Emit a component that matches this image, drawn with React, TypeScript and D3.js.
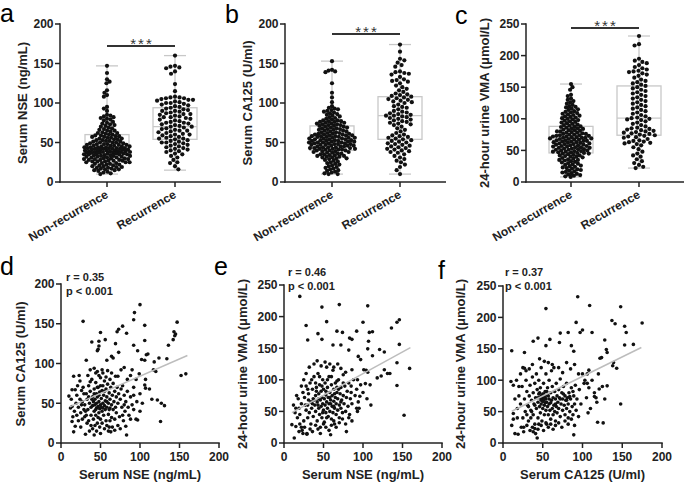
import React from 'react';
import * as d3 from 'd3';

const categories = ['Non-recurrence', 'Recurrence'];
const yTicks200 = [0, 50, 100, 150, 200];
const yTicks250 = [0, 50, 100, 150, 200, 250];
const xTicks200 = [0, 50, 100, 150, 200];

// beeswarm values
const nseNonRec = [147,138,130,127,125,116,113,110,108,95,93,90,85,84,83,82,81,80,79,78,76,75,74,73,72,71,70,69,68,67,66,65,65,64,63,62,62,61,60,60,59,59,58,58,57,57,56,56,55,55,54,54,53,53,52,52,51,51,50,50,50,49,49,48,48,48,47,47,47,46,46,46,45,45,45,44,44,44,44,43,43,43,43,42,42,42,42,41,41,41,41,40,40,40,40,39,39,39,39,38,38,38,38,37,37,37,37,36,36,36,36,35,35,35,35,34,34,34,33,33,33,32,32,32,31,31,31,30,30,30,29,29,29,28,28,28,27,27,27,26,26,26,25,25,25,24,24,23,23,22,22,21,21,20,20,19,19,18,18,17,17,16,16,15,15,14,13,12,11,10];
const nseRec = [160,147,146,145,144,140,137,124,115,108,107,107,106,106,105,104,104,103,102,101,100,100,99,98,97,96,95,94,93,92,91,90,90,89,88,87,86,86,85,84,83,82,82,81,80,79,78,77,76,75,75,74,73,72,71,70,70,69,68,67,66,65,65,64,63,62,61,60,60,59,58,57,56,55,55,54,53,52,51,50,50,49,48,47,46,45,44,43,42,41,40,39,38,36,35,33,31,28,25,24,20,16];
const caNonRec = [153,142,141,140,139,125,113,107,101,96,94,93,92,91,90,89,88,87,86,85,84,83,82,81,80,79,78,78,77,77,76,76,75,75,74,74,73,73,72,72,71,71,70,70,69,69,68,68,67,67,66,66,65,65,64,64,63,63,62,62,61,61,61,60,60,60,59,59,59,58,58,58,57,57,57,56,56,56,55,55,55,54,54,54,53,53,53,52,52,52,51,51,51,50,50,50,50,49,49,49,48,48,48,47,47,47,46,46,46,45,45,45,44,44,44,43,43,43,42,42,42,41,41,41,40,40,40,39,39,38,38,37,37,36,36,35,35,34,34,33,33,32,32,31,31,30,30,29,28,27,26,25,24,23,22,21,20,19,18,17,16,15,14,13,12,11,10,10];
const caRec = [174,165,156,154,151,148,146,140,139,138,137,136,133,130,129,128,127,125,122,120,118,116,114,112,111,110,109,108,107,106,105,104,103,102,101,100,98,96,95,94,92,90,89,88,87,86,85,84,84,83,82,81,80,79,78,77,76,75,74,73,72,70,68,66,64,62,60,59,58,57,56,55,54,53,52,51,50,49,48,47,46,45,44,43,42,41,40,39,38,37,35,33,31,29,27,25,22,19,15,10];
const vmaNonRec = [155,150,146,138,136,132,130,128,126,124,122,120,119,118,116,115,114,112,111,110,109,108,107,106,105,104,103,102,101,100,99,98,97,96,95,94,93,92,91,90,89,88,88,87,86,85,85,84,83,82,82,81,80,80,79,78,78,77,76,76,75,75,74,74,73,73,72,72,71,71,70,70,70,69,69,68,68,67,67,66,66,65,65,64,64,63,63,62,62,61,61,60,60,59,59,58,58,57,57,56,56,55,55,54,54,53,53,52,52,51,51,50,50,49,49,48,48,47,47,46,46,45,45,44,43,42,42,41,40,40,39,38,37,36,35,35,34,33,32,31,30,29,28,27,26,25,24,23,22,21,20,19,18,17,16,15,14,13,12,11,10,9,8];
const vmaRec = [231,218,216,195,192,190,188,185,182,180,178,176,175,174,172,170,168,165,162,160,158,156,154,152,150,148,146,144,142,140,138,136,134,132,130,128,126,124,122,120,118,116,114,112,110,108,106,104,102,101,100,99,98,96,94,92,90,88,86,85,84,83,82,81,80,79,78,77,76,75,74,73,72,71,70,68,66,65,64,63,62,61,60,58,55,52,48,45,42,40,36,33,30,27,24,22];

// box stats: [min, q1, median, q3, max]
const boxNSE = [[10, 35, 43, 60, 147], [15, 54, 70, 94, 160]];
const boxCA = [[10, 40, 50, 71, 153], [10, 54, 84, 108, 174]];
const boxVMA = [[8, 46, 68, 88, 155], [22, 74, 101, 152, 231]];

// scatter d: [NSE, CA125]
const nseVsCa = [[100,174],[93,164],[92,155],[28,153],[147,152],[78,147],[73,143],[71,140],[106,148],[83,138],[143,140],[145,137],[144,135],[50,139],[56,130],[39,127],[48,128],[106,129],[142,130],[92,123],[69,125],[48,122],[47,118],[46,116],[136,123],[73,114],[97,116],[110,112],[108,111],[64,109],[66,107],[58,104],[32,104],[102,105],[106,104],[124,107],[134,106],[118,102],[158,87],[152,85],[90,92],[99,87],[117,92],[120,90],[107,80],[106,73],[107,69],[122,54],[127,50],[131,47],[126,27],[97,29],[100,40],[92,42],[82,21],[83,10],[63,14],[50,12],[42,10],[31,11],[18,21],[16,14],[14,27],[12,44],[14,46],[10,59],[14,67],[18,67],[16,84],[24,78],[37,92],[42,94],[46,90],[52,92],[59,91],[69,84],[84,80],
[20,60],[22,45],[25,38],[27,52],[28,70],[30,48],[30,33],[32,62],[33,55],[34,42],[35,72],[35,28],[36,50],[37,65],[38,45],[38,35],[39,80],[40,58],[40,47],[41,30],[41,52],[42,68],[42,40],[43,55],[43,48],[44,76],[44,35],[45,62],[45,44],[45,50],[46,25],[46,58],[47,46],[47,70],[48,52],[48,38],[49,43],[49,64],[50,48],[50,82],[50,30],[51,56],[51,45],[52,66],[52,40],[53,50],[53,72],[54,35],[54,60],[55,47],[55,78],[56,53],[56,42],[57,68],[57,28],[58,58],[58,45],[59,74],[60,50],[60,36],[61,63],[61,20],[62,55],[62,44],[63,70],[64,48],[64,32],[65,60],[66,75],[66,42],[67,52],[68,65],[68,30],[69,45],[70,58],[70,38],[71,70],[72,50],[73,62],[74,33],[75,55],[76,68],[77,45],[78,72],[79,28],[80,60],[81,40],[82,52],[84,65],[86,35],[88,58],[90,48],[92,70],[95,30],[25,20],[27,30],[29,62],[31,40],[33,25],[36,15],[38,22],[40,18],[43,22],[45,15],[47,32],[49,20],[52,25],[55,18],[58,22],[60,15],[62,28],[65,20],[68,16],[72,22],[75,18],[78,35],[80,48],[20,35],[22,28],[24,55],[26,66],[19,50],[17,40],[15,33],[13,55],[21,72],[23,85],[34,85],[37,77],[44,88],[48,85],[53,88],[57,83],[62,80],[64,88],[72,84],[76,92],[80,95],[88,85],[95,80],[100,62],[103,50],[112,68],[115,55],[92,60],[96,52],[85,45],[88,30],[42,62],[46,70],[50,72],[55,65],[39,55],[44,42],[48,60],[53,44],[58,52],[61,42],[35,58],[32,35],[29,42],[26,48]];

// scatter e: [NSE, VMA]
const nseVsVma = [[20,232],[48,215],[70,219],[106,217],[54,192],[28,186],[43,173],[48,164],[30,163],[67,177],[74,175],[83,166],[86,164],[100,191],[108,175],[112,176],[92,177],[107,161],[136,182],[143,191],[146,195],[62,155],[72,155],[82,147],[94,137],[106,149],[112,138],[121,148],[127,144],[146,156],[159,118],[143,91],[152,44],[143,127],[127,116],[131,110],[134,110],[118,103],[123,106],[97,92],[103,94],[109,92],[101,116],[104,115],[106,112],[97,132],[86,116],[96,74],[92,55],[93,50],[79,18],[59,13],[29,14],[13,8],[10,29],[15,26],[19,18],[22,25],[24,15],
[15,55],[18,70],[20,45],[22,62],[24,80],[25,35],[26,72],[28,52],[28,90],[30,60],[30,40],[31,78],[32,48],[33,95],[34,65],[34,30],[35,55],[36,85],[37,70],[37,42],[38,105],[39,60],[40,75],[40,50],[41,88],[42,35],[42,65],[43,110],[44,55],[44,78],[45,45],[45,92],[46,68],[46,25],[47,58],[47,82],[48,72],[48,40],[49,100],[49,62],[50,52],[50,85],[51,70],[51,33],[52,60],[52,95],[53,48],[53,76],[54,65],[54,120],[55,55],[55,88],[56,42],[56,72],[57,62],[57,105],[58,50],[58,80],[59,68],[60,38],[60,92],[61,58],[61,75],[62,48],[62,115],[63,66],[63,85],[64,55],[64,30],[65,72],[65,95],[66,45],[66,62],[67,80],[68,52],[68,70],[69,100],[70,60],[70,40],[71,78],[72,55],[72,88],[73,68],[74,48],[75,75],[75,108],[76,62],[77,90],[78,50],[79,72],[80,82],[81,58],[82,95],[83,45],[84,70],[85,80],[86,62],[88,100],[90,75],[92,85],[94,65],[22,90],[25,100],[28,110],[32,120],[38,125],[42,130],[47,122],[52,128],[58,125],[63,120],[68,125],[72,118],[78,112],[20,30],[23,20],[26,25],[29,15],[33,22],[36,18],[40,28],[43,22],[46,15],[50,30],[53,25],[57,20],[60,28],[63,35],[66,25],[70,32],[74,38],[78,30],[82,40],[86,35],[17,40],[19,55],[14,48],[12,60],[16,75],[30,85],[35,100],[40,95],[45,105],[55,100],[60,105],[67,98],[75,95],[85,90],[93,100],[100,80],[105,70],[110,60],[95,55],[38,68],[43,60],[48,90],[53,82],[58,72],[63,58],[67,88],[72,65],[44,70],[49,48],[54,40],[59,62],[64,78],[69,85],[41,82],[36,62],[31,68],[27,60]];

// scatter f: [CA125, VMA]
const caVsVma = [[94,233],[54,214],[109,219],[148,217],[175,191],[137,195],[141,190],[153,186],[155,176],[92,192],[100,180],[97,176],[112,176],[38,162],[44,167],[59,165],[72,175],[82,176],[71,160],[86,155],[89,146],[54,155],[128,164],[153,156],[164,157],[11,147],[27,144],[27,119],[29,115],[46,134],[130,149],[131,144],[124,136],[122,135],[139,128],[138,123],[143,119],[131,91],[121,86],[115,74],[117,72],[107,48],[119,33],[126,32],[148,62],[108,116],[106,110],[103,100],[106,95],[89,13],[43,8],[10,98],[13,92],[13,47],[13,38],[11,28],[15,15],[19,14],[26,25],[38,18],[40,23],
[18,55],[20,75],[22,62],[24,90],[25,40],[27,70],[28,50],[29,100],[30,82],[31,60],[32,35],[33,75],[34,92],[35,52],[36,68],[37,105],[38,45],[38,80],[39,62],[40,95],[40,30],[41,72],[42,55],[42,110],[43,85],[44,65],[44,40],[45,78],[45,100],[46,58],[46,72],[47,48],[47,88],[48,75],[48,62],[49,70],[49,35],[50,78],[50,55],[50,72],[51,68],[51,95],[52,76],[52,45],[52,60],[53,72],[53,82],[54,70],[54,52],[54,110],[55,65],[55,30],[56,58],[56,88],[57,75],[57,45],[58,62],[58,100],[59,52],[60,80],[60,38],[61,68],[61,115],[62,55],[62,90],[63,72],[63,45],[64,60],[64,120],[65,50],[65,82],[66,70],[66,35],[67,58],[67,95],[68,75],[68,48],[69,65],[70,85],[70,55],[71,72],[72,42],[72,102],[73,62],[74,80],[75,52],[75,70],[76,90],[77,60],[78,45],[78,75],[79,68],[80,55],[80,95],[81,72],[82,40],[82,62],[83,80],[84,50],[85,70],[86,88],[87,58],[88,45],[89,75],[90,62],[91,92],[92,52],[93,70],[95,42],[96,85],[98,62],[100,110],[102,95],[105,72],[108,88],[110,55],[112,100],[115,80],[118,65],[120,110],[125,90],[128,70],[23,25],[26,18],[30,28],[34,20],[37,25],[41,15],[44,22],[48,28],[51,20],[54,32],[57,25],[60,30],[63,22],[66,28],[70,32],[74,25],[78,35],[82,30],[86,38],[90,28],[30,45],[35,40],[45,30],[15,70],[18,40],[20,90],[17,100],[22,110],[25,120],[33,118],[37,125],[48,120],[52,130],[57,128],[62,125],[70,120],[75,112],[80,128],[85,118],[90,125],[95,110],[48,68],[49,74],[50,66],[51,78],[52,70],[53,64],[47,72],[46,80],[54,76],[55,82],[44,72],[58,70],[60,64],[66,62],[72,70],[76,78],[80,68],[84,74],[88,82],[40,60],[36,50],[32,58]];

// regression lines [x, y] endpoints
const fitD = [[11, 45.5], [160, 110]];
const fitE = [[10, 48], [160, 151]];
const fitF = [[11, 50.5], [174, 152]];

const FONT = 'Liberation Sans, Arial, Helvetica, sans-serif';

function swarm(vals: number[], y: (v: number) => number, D: number, maxW: number) {
  const pts = vals.map((v) => ({ v, y: y(v), x: 0 })).sort((a, b) => a.y - b.y);
  const placed: { x: number; y: number }[] = [];
  pts.forEach((p, i) => {
    const near = placed.filter((q) => Math.abs(q.y - p.y) < D);
    const cands = [0];
    near.forEach((q) => {
      const dx = Math.sqrt(D * D - (q.y - p.y) ** 2);
      cands.push(q.x + dx, q.x - dx);
    });
    const sgn = i % 2 === 0 ? 1 : -1;
    cands.sort((a, b) => Math.abs(a) - Math.abs(b) || sgn * (a - b));
    let chosen: number | null = null;
    for (const c of cands) {
      if (Math.abs(c) > maxW) continue;
      if (near.every((q) => (q.x - c) ** 2 + (q.y - p.y) ** 2 >= D * D - 1e-6)) {
        chosen = c;
        break;
      }
    }
    if (chosen === null) {
      let best = 0;
      let bestD = -1;
      for (let c = -maxW; c <= maxW; c += 0.5) {
        const md = Math.min(...near.map((q) => (q.x - c) ** 2 + (q.y - p.y) ** 2));
        if (md > bestD) {
          bestD = md;
          best = c;
        }
      }
      chosen = best;
    }
    p.x = chosen;
    placed.push({ x: chosen, y: p.y });
  });
  return pts;
}

type DotPanelProps = {
  axisX: number;
  axisEnd: number;
  catX: [number, number];
  yMax: number;
  ticks: number[];
  groups: number[][];
  boxes: number[][];
  sigY: number;
  title: string;
  titleX: number;
  letter: string;
  letterX: number;
  letterY: number;
};

function DotPanel(p: DotPanelProps) {
  const y = d3.scaleLinear().domain([0, p.yMax]).range([182, 24]);
  const x = d3.scalePoint<string>().domain(categories).range(p.catX);
  const boxW = 44;
  const dense = [
    { D: 3.5, W: 23 },
    { D: 4.6, W: 24 },
  ];
  return (
    <g>
      <text x={p.letterX} y={p.letterY} fontSize={25} fontFamily={FONT}>{p.letter}</text>
      {p.boxes.map((b, i) => {
        const cx = x(categories[i])!;
        return (
          <g key={'b' + i} stroke="#c8c8c8" strokeWidth={1.3} fill="none">
            <rect x={cx - boxW / 2} y={y(b[3])} width={boxW} height={y(b[1]) - y(b[3])} />
            <line x1={cx - boxW / 2} x2={cx + boxW / 2} y1={y(b[2])} y2={y(b[2])} />
            <line x1={cx} x2={cx} y1={y(b[3])} y2={y(b[4])} />
            <line x1={cx} x2={cx} y1={y(b[1])} y2={y(b[0])} />
            <line x1={cx - 11} x2={cx + 11} y1={y(b[4])} y2={y(b[4])} />
            <line x1={cx - 11} x2={cx + 11} y1={y(b[0])} y2={y(b[0])} />
          </g>
        );
      })}
      {p.groups.map((vals, i) => {
        const cx = x(categories[i])!;
        const pts = swarm(vals, y, dense[i].D, dense[i].W);
        return (
          <g key={'g' + i} fill="#111">
            {pts.map((pt, j) => (
              <circle key={j} cx={cx + pt.x} cy={pt.y} r={2.1} />
            ))}
          </g>
        );
      })}
      <line x1={p.axisX} x2={p.axisX} y1={y(p.yMax) - 0.75} y2={182.75} stroke="#222" strokeWidth={1.5} />
      <line x1={p.axisX - 0.75} x2={p.axisEnd} y1={182} y2={182} stroke="#222" strokeWidth={1.5} />
      {p.ticks.map((t) => (
        <g key={t}>
          <line x1={p.axisX - 5} x2={p.axisX} y1={y(t)} y2={y(t)} stroke="#222" strokeWidth={1.5} />
          <text x={p.axisX - 6.5} y={y(t) + 4.3} textAnchor="end" fontSize={12} fontWeight="bold" fontFamily={FONT} fill="#222">{t}</text>
        </g>
      ))}
      {categories.map((c) => (
        <g key={c}>
          <line x1={x(c)!} x2={x(c)!} y1={182} y2={187} stroke="#222" strokeWidth={1.5} />
          <text transform={`translate(${x(c)! + 2},${197}) rotate(-30)`} textAnchor="end" fontSize={12} fontWeight="bold" fontFamily={FONT} fill="#222">{c}</text>
        </g>
      ))}
      <text transform={`translate(${p.titleX},103) rotate(-90)`} textAnchor="middle" fontSize={13} fontWeight="bold" fontFamily={FONT} fill="#222">{p.title}</text>
      <line x1={p.catX[0]} x2={p.catX[1]} y1={p.sigY} y2={p.sigY} stroke="#333" strokeWidth={2} />
      <text x={(p.catX[0] + p.catX[1]) / 2 + 1} y={p.sigY + 3} textAnchor="middle" fontSize={15} letterSpacing={2} fontFamily={FONT} fill="#333">***</text>
    </g>
  );
}

type ScatterProps = {
  x0: number;
  x1: number;
  yTop: number;
  yMax: number;
  ticks: number[];
  data: number[][];
  fit: number[][];
  r: string;
  textX: number;
  textY: number;
  yTitle: string;
  yTitleX: number;
  xTitle: string;
  letter: string;
  letterX: number;
  letterY: number;
};

function ScatterPanel(p: ScatterProps) {
  const x = d3.scaleLinear().domain([0, 200]).range([p.x0, p.x1]);
  const y = d3.scaleLinear().domain([0, p.yMax]).range([443, p.yTop]);
  const line = d3.line<number[]>().x((d) => x(d[0])).y((d) => y(d[1]));
  return (
    <g>
      <text x={p.letterX} y={p.letterY} fontSize={25} fontFamily={FONT}>{p.letter}</text>
      <g fill="#111">
        {p.data.map((d, i) => (
          <circle key={i} cx={x(d[0])} cy={y(d[1])} r={1.8} />
        ))}
      </g>
      <path d={line(p.fit) || ''} stroke="#bdbdbd" strokeWidth={1.5} fill="none" />
      <line x1={p.x0} x2={p.x0} y1={p.yTop - 0.75} y2={443.75} stroke="#222" strokeWidth={1.5} />
      <line x1={p.x0 - 0.75} x2={p.x1 + 0.75} y1={443} y2={443} stroke="#222" strokeWidth={1.5} />
      {p.ticks.map((t) => (
        <g key={'y' + t}>
          <line x1={p.x0 - 5} x2={p.x0} y1={y(t)} y2={y(t)} stroke="#222" strokeWidth={1.5} />
          <text x={p.x0 - 6.5} y={y(t) + 4.3} textAnchor="end" fontSize={12} fontWeight="bold" fontFamily={FONT} fill="#222">{t}</text>
        </g>
      ))}
      {xTicks200.map((t) => (
        <g key={'x' + t}>
          <line x1={x(t)} x2={x(t)} y1={443} y2={448} stroke="#222" strokeWidth={1.5} />
          <text x={x(t)} y={461} textAnchor="middle" fontSize={12} fontWeight="bold" fontFamily={FONT} fill="#222">{t}</text>
        </g>
      ))}
      <text x={(p.x0 + p.x1) / 2} y={479} textAnchor="middle" fontSize={13} fontWeight="bold" fontFamily={FONT} fill="#222">{p.xTitle}</text>
      <text transform={`translate(${p.yTitleX},364) rotate(-90)`} textAnchor="middle" fontSize={13} fontWeight="bold" fontFamily={FONT} fill="#222">{p.yTitle}</text>
      <text x={p.textX} y={p.textY} fontSize={11} fontWeight="bold" fontFamily={FONT} fill="#222">{p.r}</text>
      <text x={p.textX} y={p.textY + 14} fontSize={11} fontWeight="bold" fontFamily={FONT} fill="#222">p &lt; 0.001</text>
    </g>
  );
}

export default function App() {
  return (
    <svg width={685} height={483} style={{ position: 'absolute', left: 0, top: 0, background: '#fff' }}>
      <rect width={685} height={483} fill="#fff" />
      <DotPanel axisX={60} axisEnd={221} catX={[107, 175]} yMax={200} ticks={yTicks200} groups={[nseNonRec, nseRec]} boxes={boxNSE} sigY={46} title="Serum NSE (ng/mL)" titleX={27} letter="a" letterX={0} letterY={22} />
      <DotPanel axisX={285} axisEnd={446} catX={[332, 400]} yMax={200} ticks={yTicks200} groups={[caNonRec, caRec]} boxes={boxCA} sigY={34} title="Serum CA125 (U/ml)" titleX={252} letter="b" letterX={225} letterY={23} />
      <DotPanel axisX={526} axisEnd={684} catX={[571, 639]} yMax={250} ticks={yTicks250} groups={[vmaNonRec, vmaRec]} boxes={boxVMA} sigY={28} title="24-hour urine VMA (μmol/L)" titleX={489} letter="c" letterX={455} letterY={24} />
      <ScatterPanel x0={61} x1={219} yTop={284} yMax={200} ticks={yTicks200} data={nseVsCa} fit={fitD} r="r = 0.35" textX={66} textY={281} yTitle="Serum CA125 (U/ml)" yTitleX={25} xTitle="Serum NSE (ng/mL)" letter="d" letterX={0} letterY={275} />
      <ScatterPanel x0={284} x1={442} yTop={285} yMax={250} ticks={yTicks250} data={nseVsVma} fit={fitE} r="r = 0.46" textX={288} textY={276} yTitle="24-hour urine VMA (μmol/L)" yTitleX={247} xTitle="Serum NSE (ng/mL)" letter="e" letterX={214} letterY={275} />
      <ScatterPanel x0={503} x1={662} yTop={286} yMax={250} ticks={yTicks250} data={caVsVma} fit={fitF} r="r = 0.37" textX={505} textY={276} yTitle="24-hour urine VMA (μmol/L)" yTitleX={465} xTitle="Serum CA125 (U/ml)" letter="f" letterX={438} letterY={279} />
    </svg>
  );
}
